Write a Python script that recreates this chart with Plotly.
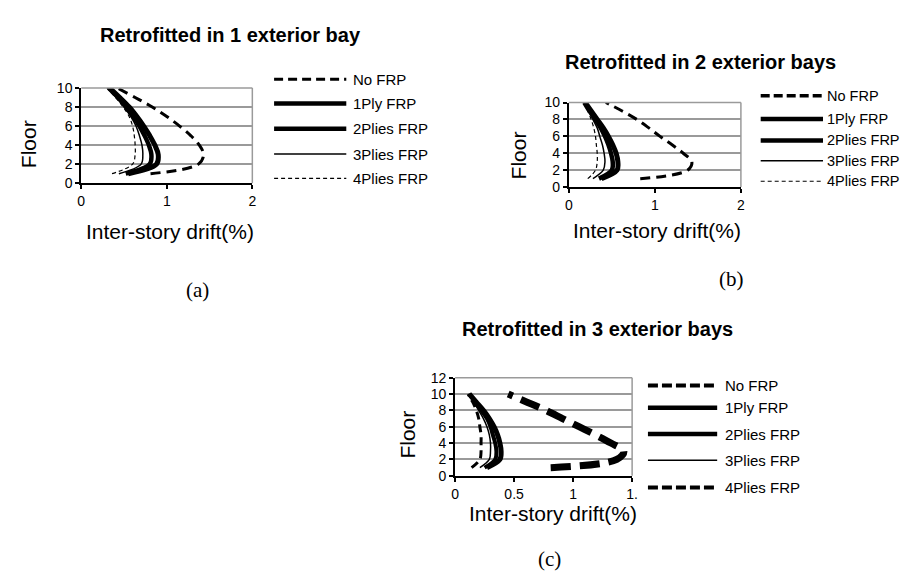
import plotly.graph_objects as go

W, H = 911, 574

# ---------------- data ----------------
floors = [1, 2, 3, 4, 5, 6, 7, 8, 9, 10]
series_names = ["No FRP", "1Ply FRP", "2Plies FRP", "3Plies FRP", "4Plies FRP"]

# (a) Retrofitted in 1 exterior bay
a_no_frp = [0.81, 1.37, 1.43, 1.38, 1.28, 1.15, 1.00, 0.83, 0.63, 0.42]
a_1ply = [0.55, 0.88, 0.90, 0.86, 0.80, 0.73, 0.65, 0.56, 0.45, 0.33]
a_2plies = [0.52, 0.80, 0.82, 0.79, 0.74, 0.68, 0.61, 0.53, 0.43, 0.32]
a_3plies = [0.44, 0.70, 0.72, 0.71, 0.68, 0.64, 0.58, 0.50, 0.41, 0.31]
a_4plies = [0.36, 0.60, 0.63, 0.63, 0.62, 0.60, 0.56, 0.49, 0.40, 0.30]

# (b) Retrofitted in 2 exterior bays
b_no_frp = [0.83, 1.38, 1.43, 1.33, 1.20, 1.06, 0.93, 0.79, 0.62, 0.43]
b_1ply = [0.38, 0.56, 0.57, 0.55, 0.51, 0.46, 0.40, 0.33, 0.26, 0.19]
b_2plies = [0.35, 0.50, 0.51, 0.49, 0.46, 0.42, 0.37, 0.31, 0.24, 0.18]
b_3plies = [0.28, 0.40, 0.42, 0.41, 0.39, 0.36, 0.33, 0.28, 0.23, 0.18]
b_4plies = [0.22, 0.31, 0.33, 0.33, 0.32, 0.31, 0.29, 0.26, 0.22, 0.18]

# (c) Retrofitted in 3 exterior bays
c_no_frp = [0.81, 1.37, 1.43, 1.32, 1.19, 1.05, 0.91, 0.77, 0.61, 0.45]
c_1ply = [0.27, 0.38, 0.39, 0.38, 0.36, 0.33, 0.29, 0.24, 0.18, 0.12]
c_2plies = [0.25, 0.34, 0.35, 0.34, 0.32, 0.30, 0.27, 0.22, 0.17, 0.12]
c_3plies = [0.21, 0.29, 0.30, 0.30, 0.29, 0.27, 0.24, 0.20, 0.16, 0.12]
c_4plies = [0.14, 0.21, 0.22, 0.22, 0.22, 0.21, 0.20, 0.18, 0.15, 0.11]

titles = ["Retrofitted in 1 exterior bay", "Retrofitted in 2 exterior bays",
          "Retrofitted in 3 exterior bays"]
captions = ["(a)", "(b)", "(c)"]
x_label = "Inter-story drift(%)"
y_label = "Floor"

a_xticks = [0, 1, 2]
a_xticktext = ["0", "1", "2"]
b_xticks = [0, 1, 2]
b_xticktext = ["0", "1", "2"]
c_xticks = [0, 0.5, 1, 1.5]
c_xticktext = ["0", "0.5", "1", "1."]

# ---------------- layout geometry (pixels) ----------------
FONT = "Liberation Sans, Arial, sans-serif"
SERIF = "Liberation Serif, Times New Roman, serif"

panels = [
    dict(series=[a_no_frp, a_1ply, a_2plies, a_3plies, a_4plies],
         box=(70, 243, 74, 172), xr=[0, 2], yr=[0, 10], xt=a_xticks, xtt=a_xticktext,
         title_xy=(221, 20), ylab_xy=(17, 132), xlab_xy=(160, 222), cap_xy=(188, 282),
         leg_x=(265, 338, 343), leg_y=[65, 90, 116, 142, 167], leg_font=15,
         trace_styles=[dict(width=3, dash="10px,6px"), dict(width=5), dict(width=4.5),
                       dict(width=1.5), dict(width=1.2, dash="4px,3px")],
         leg_styles=[dict(width=3, dash="9px,5px"), dict(width=4.5), dict(width=4.5),
                     dict(width=1.5), dict(width=1.2, dash="4px,3px")]),
    dict(series=[b_no_frp, b_1ply, b_2plies, b_3plies, b_4plies],
         box=(563, 737, 89, 176), xr=[0, 2], yr=[0, 10], xt=b_xticks, xtt=b_xticktext,
         title_xy=(696, 47), ylab_xy=(512, 143), xlab_xy=(652, 221), cap_xy=(727, 271),
         leg_x=(757, 820, 822), leg_y=[82, 106, 128, 149, 170], leg_font=14.5,
         trace_styles=[dict(width=3, dash="10px,6px"), dict(width=5), dict(width=4.5),
                       dict(width=1.5), dict(width=1.2, dash="4px,3px")],
         leg_styles=[dict(width=3.5, dash="9px,4px"), dict(width=4.5), dict(width=4.5),
                     dict(width=1.5), dict(width=1.2, dash="4px,3px")]),
    dict(series=[c_no_frp, c_1ply, c_2plies, c_3plies, c_4plies],
         box=(448, 627, 372, 473), xr=[0, 1.5], yr=[0, 12], xt=c_xticks, xtt=c_xticktext,
         title_xy=(592, 322), ylab_xy=(400, 431), xlab_xy=(547, 512), cap_xy=(543, 559),
         leg_x=(643, 713, 719), leg_y=[380, 403, 430, 457, 485], leg_font=15,
         trace_styles=[dict(width=7, dash="20px,9px"), dict(width=5), dict(width=4),
                       dict(width=1.5), dict(width=3, dash="8px,5px")],
         leg_styles=[dict(width=4, dash="10px,4px"), dict(width=4.5), dict(width=4.5),
                     dict(width=1.5), dict(width=4, dash="10px,4px")]),
]


def px(x):
    return x / W


def py(y):
    return 1 - y / H


fig = go.Figure()
layout = dict(width=W, height=H, margin=dict(l=0, r=0, t=0, b=0),
              paper_bgcolor="white", plot_bgcolor="white", showlegend=False,
              font=dict(family=FONT, color="black"))
shapes = []
annotations = []

for i, p in enumerate(panels):
    n = i + 1
    xa = "x" if n == 1 else f"x{n}"
    ya = "y" if n == 1 else f"y{n}"
    x0, x1, ytop, ybot = p["box"]
    for vals, st in zip(p["series"], p["trace_styles"]):
        fig.add_trace(go.Scatter(
            x=vals, y=floors, mode="lines", xaxis=xa, yaxis=ya,
            line=dict(color="black", shape="spline", smoothing=1, **st),
            hoverinfo="skip"))
    xkey = "xaxis" if n == 1 else f"xaxis{n}"
    ykey = "yaxis" if n == 1 else f"yaxis{n}"
    layout[xkey] = dict(domain=[px(x0), px(x1)], range=p["xr"], anchor=ya,
                        tickvals=p["xt"], ticktext=p["xtt"], showgrid=False,
                        zeroline=False, showline=True, linecolor="black", linewidth=2,
                        ticks="outside", ticklen=4, tickwidth=1.5, tickcolor="black",
                        tickfont=dict(size=14, family=FONT, color="black"),
                        fixedrange=True)
    layout[ykey] = dict(domain=[py(ybot), py(ytop)], range=p["yr"], anchor=xa,
                        dtick=2, showgrid=True, gridcolor="#9a9a9a", gridwidth=2,
                        zeroline=False, showline=True, linecolor="black", linewidth=2,
                        ticks="outside", ticklen=4, tickwidth=1.5, tickcolor="black",
                        tickfont=dict(size=14, family=FONT, color="black"),
                        fixedrange=True)
    # gray top/right border of plot area
    shapes.append(dict(type="line", xref=f"{xa} domain", yref=f"{ya} domain",
                       x0=0, x1=1, y0=1, y1=1, line=dict(color="#9a9a9a", width=1.5)))
    shapes.append(dict(type="line", xref=f"{xa} domain", yref=f"{ya} domain",
                       x0=1, x1=1, y0=0, y1=1, line=dict(color="#9a9a9a", width=1.5)))
    # manual legend
    lx0, lx1, tx = p["leg_x"]
    for name, ly, st in zip(series_names, p["leg_y"], p["leg_styles"]):
        shapes.append(dict(type="line", xref="paper", yref="paper",
                           x0=px(lx0), x1=px(lx1), y0=py(ly), y1=py(ly),
                           line=dict(color="black", **st)))
        annotations.append(dict(text=name, xref="paper", yref="paper", x=px(tx), y=py(ly),
                                xanchor="left", yanchor="middle", showarrow=False,
                                font=dict(size=p["leg_font"], family=FONT, color="black")))
    annotations.append(dict(text=f"<b>{titles[i]}</b>", xref="paper", yref="paper",
                            x=px(p["title_xy"][0]), y=py(p["title_xy"][1]),
                            xanchor="center", yanchor="middle", showarrow=False,
                            font=dict(size=20, family=FONT, color="black")))
    annotations.append(dict(text=y_label, xref="paper", yref="paper",
                            x=px(p["ylab_xy"][0]), y=py(p["ylab_xy"][1]),
                            xanchor="center", yanchor="middle", showarrow=False, textangle=-90,
                            font=dict(size=21, family=FONT, color="black")))
    annotations.append(dict(text=x_label, xref="paper", yref="paper",
                            x=px(p["xlab_xy"][0]), y=py(p["xlab_xy"][1]),
                            xanchor="center", yanchor="middle", showarrow=False,
                            font=dict(size=21, family=FONT, color="black")))
    annotations.append(dict(text=captions[i], xref="paper", yref="paper",
                            x=px(p["cap_xy"][0]), y=py(p["cap_xy"][1]),
                            xanchor="center", yanchor="middle", showarrow=False,
                            font=dict(size=21, family=SERIF, color="black")))

layout["shapes"] = shapes
layout["annotations"] = annotations
fig.update_layout(**layout)
fig.write_html("out.html")
